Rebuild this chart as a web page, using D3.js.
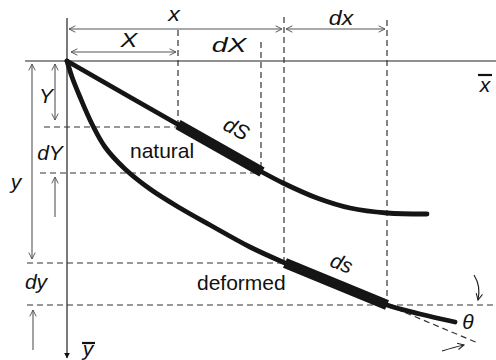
<!DOCTYPE html>
<html>
<head>
<meta charset="utf-8">
<script src="https://cdn.jsdelivr.net/npm/d3@7"></script>
<style>
  body { margin: 0; background: #fff; }
  text { font-family: "Liberation Sans", Arial, sans-serif; }
</style>
</head>
<body>
<svg id="chart" width="496" height="360"></svg>
<script>
// Points are offsets (px-like units) from the origin of the x-bar / y-bar frame
var naturalCurve = [[0,0],[111,63.5],[195,111],[216,122],[250,137],[283,147],[320,152],[360,153]];
var deformedCurve = [[0,0],[5,16],[13,36],[25,63],[38,86],[58,108],[83,128],[113,147],[143,164],
                     [183,186],[218,202],[269,223],[320,244],[353,253],[388,261]];
var dSsegment = [[111,63.5],[195,111]];
var dsSegment = [[218,202],[320,244]];
var tangentLine = [[320,244],[411,282]];

// dashed guide lines [x1,y1,x2,y2]
var guideV = [[111,-31,111,65],[194,-19,194,111],[217,-44,217,201],[320,-41,320,244]];
var guideH = [[-23,66,111,66],[-27,112,194,112],[-40,202,217,202],[-40,244,429,244]];

// dimension arrows [x1,y1,x2,y2,bothHeads]
var dimArrows = [
    [2,-32,215,-32,true],     // x
    [4,-9,109,-9,true],       // X
    [219,-32,318,-32,true],   // dx
    [-12,3,-12,59,true],      // Y
    [-35,3,-35,198,true],     // y
    [-12,156,-12,116,false],  // dY
    [-34,289,-34,249,false]   // dy
];

var labels = [
    {t:'x',  x:107, y:-40, sx:1.1},
    {t:'X',  x:62,  y:-14, sx:1.2},
    {t:'dX', x:162, y:-9,  sx:1.35},
    {t:'dx', x:274, y:-36, sx:1.1},
    {t:'Y',  x:-21, y:42,  sx:1},
    {t:'dY', x:-17, y:99,  sx:1},
    {t:'y',  x:-51, y:128, sx:1},
    {t:'dy', x:-31, y:228, sx:1}
];

var svg = d3.select('#chart');

var xScale = d3.scaleLinear().domain([0, 429]).range([67, 496]);
var yScale = d3.scaleLinear().domain([0, 299]).range([61, 360]);

var defs = svg.append('defs');
defs.append('marker')
    .attr('id', 'chev')
    .attr('viewBox', '0 0 10 10')
    .attr('refX', 9).attr('refY', 5)
    .attr('markerWidth', 8).attr('markerHeight', 8)
    .attr('markerUnits', 'userSpaceOnUse')
    .attr('orient', 'auto-start-reverse')
    .append('path')
    .attr('d', 'M1,1 L9,5 L1,9')
    .attr('fill', 'none')
    .attr('stroke', '#555')
    .attr('stroke-width', 1.2);
defs.append('marker')
    .attr('id', 'chevBlack')
    .attr('viewBox', '0 0 10 10')
    .attr('refX', 9).attr('refY', 5)
    .attr('markerWidth', 8).attr('markerHeight', 8)
    .attr('markerUnits', 'userSpaceOnUse')
    .attr('orient', 'auto')
    .append('path')
    .attr('d', 'M1,1 L9,5 L1,9')
    .attr('fill', 'none')
    .attr('stroke', '#222')
    .attr('stroke-width', 1.3);
defs.append('marker')
    .attr('id', 'solidHead')
    .attr('viewBox', '0 0 10 10')
    .attr('refX', 9).attr('refY', 5)
    .attr('markerWidth', 6).attr('markerHeight', 6)
    .attr('markerUnits', 'userSpaceOnUse')
    .attr('orient', 'auto')
    .append('path')
    .attr('d', 'M0,0 L10,5 L0,10 Z')
    .attr('fill', '#111');

// axes
svg.append('line')
    .attr('x1', xScale(-42)).attr('y1', yScale(0))
    .attr('x2', xScale(429)).attr('y2', yScale(0))
    .attr('stroke', '#222').attr('stroke-width', 1.2);
svg.append('line')
    .attr('x1', xScale(0)).attr('y1', yScale(-43))
    .attr('x2', xScale(0)).attr('y2', yScale(297))
    .attr('stroke', '#222').attr('stroke-width', 1.2)
    .attr('marker-end', 'url(#solidHead)');

// dashed guides
svg.selectAll('.guide')
    .data(guideV.concat(guideH))
    .enter().append('line')
    .attr('class', 'guide')
    .attr('x1', function(d) { return xScale(d[0]); })
    .attr('y1', function(d) { return yScale(d[1]); })
    .attr('x2', function(d) { return xScale(d[2]); })
    .attr('y2', function(d) { return yScale(d[3]); })
    .attr('stroke', '#333')
    .attr('stroke-width', 1.2)
    .attr('stroke-dasharray', '6,4');

// dimension arrows
svg.selectAll('.dim')
    .data(dimArrows)
    .enter().append('line')
    .attr('class', 'dim')
    .attr('x1', function(d) { return xScale(d[0]); })
    .attr('y1', function(d) { return yScale(d[1]); })
    .attr('x2', function(d) { return xScale(d[2]); })
    .attr('y2', function(d) { return yScale(d[3]); })
    .attr('stroke', '#555')
    .attr('stroke-width', 1.1)
    .attr('marker-start', function(d) { return d[4] ? 'url(#chev)' : null; })
    .attr('marker-end', 'url(#chev)');

// tangent
var line = d3.line()
    .x(function(d) { return xScale(d[0]); })
    .y(function(d) { return yScale(d[1]); });

svg.append('path')
    .attr('d', line(tangentLine))
    .attr('fill', 'none')
    .attr('stroke', '#333')
    .attr('stroke-width', 1.2)
    .attr('stroke-dasharray', '6,4');

// curves
var curveLine = d3.line()
    .x(function(d) { return xScale(d[0]); })
    .y(function(d) { return yScale(d[1]); })
    .curve(d3.curveCatmullRom);

[naturalCurve, deformedCurve].forEach(function(c) {
    svg.append('path')
        .attr('d', curveLine(c))
        .attr('fill', 'none')
        .attr('stroke', '#151515')
        .attr('stroke-width', 4.8)
        .attr('stroke-linecap', 'round');
});

[dSsegment, dsSegment].forEach(function(s) {
    svg.append('path')
        .attr('d', line(s))
        .attr('fill', 'none')
        .attr('stroke', '#151515')
        .attr('stroke-width', 10.5)
        .attr('stroke-linecap', 'butt');
});

// angle arrows
svg.append('path')
    .attr('d', 'M' + xScale(407) + ',' + yScale(214) + ' Q' + xScale(414) + ',' + yScale(225) + ' ' + xScale(411) + ',' + yScale(239))
    .attr('fill', 'none').attr('stroke', '#222').attr('stroke-width', 1.2)
    .attr('marker-end', 'url(#chevBlack)');
svg.append('path')
    .attr('d', 'M' + xScale(375) + ',' + yScale(290) + ' Q' + xScale(388) + ',' + yScale(286) + ' ' + xScale(397) + ',' + yScale(284))
    .attr('fill', 'none').attr('stroke', '#222').attr('stroke-width', 1.2)
    .attr('marker-end', 'url(#chevBlack)');

// italic dimension labels
svg.selectAll('.lbl')
    .data(labels)
    .enter().append('text')
    .attr('class', 'lbl')
    .attr('transform', function(d) {
        return 'translate(' + xScale(d.x) + ',' + yScale(d.y) + ') scale(' + d.sx + ',1)';
    })
    .attr('text-anchor', 'middle')
    .attr('font-style', 'italic')
    .attr('font-size', 21)
    .attr('fill', '#111')
    .text(function(d) { return d.t; });

// x-bar, y-bar
svg.append('text')
    .attr('x', xScale(418)).attr('y', yScale(31))
    .attr('text-anchor', 'middle').attr('font-style', 'italic')
    .attr('font-size', 21).attr('fill', '#111').text('x');
svg.append('line')
    .attr('x1', xScale(411)).attr('x2', xScale(425))
    .attr('y1', yScale(14)).attr('y2', yScale(14))
    .attr('stroke', '#111').attr('stroke-width', 2.2);
svg.append('text')
    .attr('x', xScale(21)).attr('y', yScale(295))
    .attr('text-anchor', 'middle').attr('font-style', 'italic')
    .attr('font-size', 21).attr('fill', '#111').text('y');
svg.append('line')
    .attr('x1', xScale(15)).attr('x2', xScale(28))
    .attr('y1', yScale(282)).attr('y2', yScale(282))
    .attr('stroke', '#111').attr('stroke-width', 2.2);

// segment labels
svg.append('text')
    .attr('transform', 'translate(' + xScale(166) + ',' + yScale(74) + ') rotate(28)')
    .attr('text-anchor', 'middle').attr('font-style', 'italic')
    .attr('font-size', 21).attr('fill', '#111').text('dS');
svg.append('text')
    .attr('transform', 'translate(' + xScale(272) + ',' + yScale(209) + ') rotate(21)')
    .attr('text-anchor', 'middle').attr('font-style', 'italic')
    .attr('font-size', 21).attr('fill', '#111').text('ds');

svg.append('text')
    .attr('x', xScale(63)).attr('y', yScale(97))
    .attr('font-size', 21).attr('fill', '#111').text('natural');
svg.append('text')
    .attr('x', xScale(130)).attr('y', yScale(229))
    .attr('font-size', 21).attr('fill', '#111').text('deformed');

svg.append('text')
    .attr('x', xScale(401)).attr('y', yScale(268))
    .attr('text-anchor', 'middle')
    .attr('font-family', '"Liberation Serif", "Times New Roman", serif')
    .attr('font-style', 'italic')
    .attr('font-size', 21).attr('fill', '#111').text('θ');
</script>
</body>
</html>
